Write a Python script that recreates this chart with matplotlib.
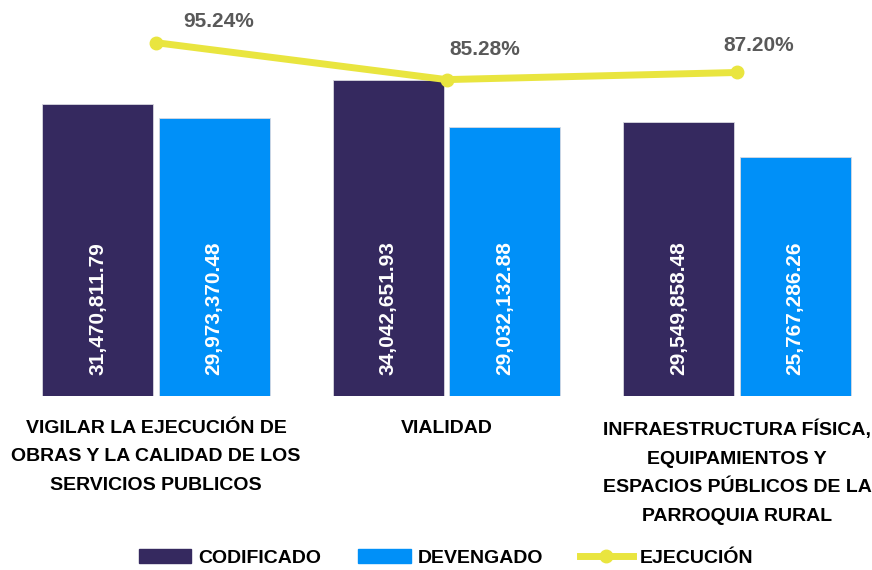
import matplotlib.pyplot as plt
from matplotlib.patches import Patch
from matplotlib.lines import Line2D
import numpy as np

# Datos
categorias = ['VIGILAR LA EJECUCIÓN DE\nOBRAS Y LA CALIDAD DE LOS\nSERVICIOS PUBLICOS',
              'VIALIDAD',
              'INFRAESTRUCTURA FÍSICA,\nEQUIPAMIENTOS Y\nESPACIOS PÚBLICOS DE LA\nPARROQUIA RURAL']
codificado = [31470811.79, 34042651.93, 29549858.48]
devengado = [29973370.48, 29032132.88, 25767286.26]
ejecucion = [95.24, 85.28, 87.20]

# Estilos
c_cod = '#35295f'
c_dev = '#0090f8'
c_eje = '#e9e53f'
fuente = 'Liberation Sans'
# desplazamiento (px) de las etiquetas de porcentaje respecto al punto
desp_pct = [(63, 21), (38, 30), (22, 27)]

plt.rcParams['font.family'] = fuente

fig = plt.figure(figsize=(8.72, 5.70), dpi=100)
ax = fig.add_axes([10 / 872, 1 - 396 / 570, 862 / 872, 371 / 570])

x = np.arange(len(categorias))
ancho = 0.382
b1 = ax.bar(x - 0.2, codificado, ancho, color=c_cod, edgecolor='#d8d8e0', linewidth=0.6)
b2 = ax.bar(x + 0.2, devengado, ancho, color=c_dev, edgecolor='#d8d8e0', linewidth=0.6)

ax.set_xlim(-0.5026, 2.4647)
ax.set_ylim(0, 40e6)

# Etiquetas dentro de las barras
for barras in (b1, b2):
    for b in barras:
        ax.text(b.get_x() + b.get_width() / 2, 9.43e6, f'{b.get_height():,.2f}',
                rotation=90, ha='center', va='center', color='white',
                fontsize=15, fontweight='bold')

# Categorías
for xi, cat in zip(x, categorias):
    ax.text(xi, -0.064, cat, transform=ax.get_xaxis_transform(), ha='center', va='top',
            fontsize=14, fontweight='bold', linespacing=1.88, color='black')

ax.set_xticks([])
ax.set_yticks([])
for s in ax.spines.values():
    s.set_visible(False)

# Eje secundario para la ejecución
ax2 = ax.twinx()
ax2.plot(x, ejecucion, color=c_eje, linewidth=5, marker='o', markersize=9)
ax2.set_ylim(0, 100)
ax2.set_yticks([])
for s in ax2.spines.values():
    s.set_visible(False)

for xi, v, (dx, dy) in zip(x, ejecucion, desp_pct):
    ax2.annotate(f'{v:.2f}%', (xi, v), xytext=(dx, dy), textcoords='offset pixels',
                 ha='center', va='center', fontsize=15, fontweight='bold', color='#595959')

# Leyenda
handles = [Patch(color=c_cod), Patch(color=c_dev),
           Line2D([], [], color=c_eje, linewidth=5, marker='o', markersize=9)]
fig.legend(handles, ['CODIFICADO', 'DEVENGADO', 'EJECUCIÓN'], loc='center',
           bbox_to_anchor=(446 / 872, 1 - 558 / 570), ncol=3, frameon=False,
           prop={'family': fuente, 'weight': 'bold', 'size': 14},
           handlelength=2.7, handleheight=0.67, handletextpad=0.36, columnspacing=1.9)

fig.savefig('out.png', dpi=100)
